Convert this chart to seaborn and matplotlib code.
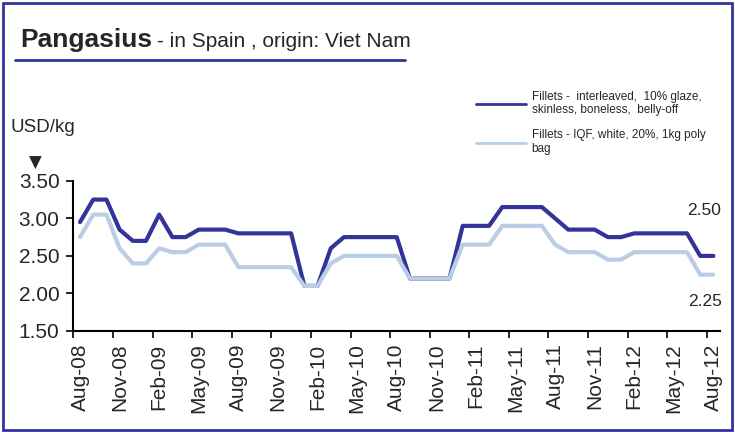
"""Pangasius fillet prices in Spain, origin Viet Nam (USD/kg)."""

import matplotlib.pyplot as plt
import pandas as pd
import seaborn as sns
from matplotlib.lines import Line2D
from matplotlib.patches import Rectangle
from matplotlib.ticker import FixedLocator, FormatStrFormatter

# Monthly series, Aug-08 .. Aug-12
months = pd.date_range("2008-08-01", periods=49, freq="MS").strftime("%b-%y").tolist()

interleaved = [
    2.95, 3.25, 3.25, 2.85, 2.70, 2.70, 3.05, 2.75, 2.75, 2.85, 2.85, 2.85,
    2.80, 2.80, 2.80, 2.80, 2.80, 2.10, 2.10, 2.60, 2.75, 2.75, 2.75, 2.75,
    2.75, 2.20, 2.20, 2.20, 2.20, 2.90, 2.90, 2.90, 3.15, 3.15, 3.15, 3.15,
    3.00, 2.85, 2.85, 2.85, 2.75, 2.75, 2.80, 2.80, 2.80, 2.80, 2.80, 2.50,
    2.50,
]
iqf_white = [
    2.75, 3.05, 3.05, 2.60, 2.40, 2.40, 2.60, 2.55, 2.55, 2.65, 2.65, 2.65,
    2.35, 2.35, 2.35, 2.35, 2.35, 2.10, 2.10, 2.40, 2.50, 2.50, 2.50, 2.50,
    2.50, 2.20, 2.20, 2.20, 2.20, 2.65, 2.65, 2.65, 2.90, 2.90, 2.90, 2.90,
    2.65, 2.55, 2.55, 2.55, 2.45, 2.45, 2.55, 2.55, 2.55, 2.55, 2.55, 2.25,
    2.25,
]
series_names = [
    "Fillets -  interleaved,  10% glaze,\nskinless, boneless,  belly-off",
    "Fillets - IQF, white, 20%, 1kg poly\nbag",
]
y_ticks = [1.50, 2.00, 2.50, 3.00, 3.50]

NAVY = "#333399"
LIGHT = "#B9CDE5"

df = pd.concat(
    [
        pd.DataFrame({"idx": range(len(months)), "price": interleaved, "product": series_names[0]}),
        pd.DataFrame({"idx": range(len(months)), "price": iqf_white, "product": series_names[1]}),
    ]
)

sns.set_style("white")
plt.rcParams["font.family"] = ["Liberation Sans", "DejaVu Sans"]

fig = plt.figure(figsize=(7.35, 4.32), dpi=100)
ax = fig.add_axes([0.0999, 0.2338, 0.8797, 0.3477])

sns.lineplot(
    data=df,
    x="idx",
    y="price",
    hue="product",
    palette=[NAVY, LIGHT],
    linewidth=3,
    ax=ax,
)

ax.set_xlim(-0.5, len(months) - 0.5)
ax.set_ylim(1.5, 3.5)
ax.set_xlabel("")
ax.set_ylabel("")

# labels centred on categories, tick marks between them
ax.set_xticks(range(0, len(months), 3))
ax.set_xticklabels(months[::3], rotation=90, fontsize=15)
ax.xaxis.set_minor_locator(FixedLocator([i - 0.5 for i in range(0, len(months), 3)]))
ax.tick_params(axis="x", which="major", bottom=True, length=0, pad=9)
ax.tick_params(axis="x", which="minor", bottom=True, length=5, width=1.2,
               color="black", direction="out")

ax.set_yticks(y_ticks)
ax.yaxis.set_major_formatter(FormatStrFormatter("%.2f"))
ax.tick_params(axis="y", left=True, length=5, width=1.2, color="black", direction="out",
               labelsize=15, pad=5)

for side in ["top", "right"]:
    ax.spines[side].set_visible(False)
for side in ["left", "bottom"]:
    ax.spines[side].set_color("black")
    ax.spines[side].set_linewidth(1.5)

# end-of-series values
ax.annotate("2.50", xy=(len(months) - 1, interleaved[-1]), xytext=(-7, 33),
            textcoords="offset points", ha="center", va="center", fontsize=12.5)
ax.annotate("2.25", xy=(len(months) - 1, iqf_white[-1]), xytext=(-6, -19),
            textcoords="offset points", ha="center", va="center", fontsize=12.5)

handles, labels = ax.get_legend_handles_labels()
for h in handles:
    h.set_linewidth(2)
ax.legend(
    handles, labels,
    loc="upper left",
    bbox_to_anchor=(465 / 735, 1 - 80 / 432),
    bbox_transform=fig.transFigure,
    frameon=False,
    fontsize=8.5,
    handlelength=4.3,
    handletextpad=0.45,
    labelspacing=1.1,
)

# title, underline, unit label
fig.text(20 / 735, 1 - 47 / 432, "Pangasius", fontsize=19, fontweight="bold", va="baseline")
fig.text(157 / 735, 1 - 47 / 432, "- in Spain , origin: Viet Nam", fontsize=15, va="baseline")
fig.add_artist(Line2D([15 / 735, 405 / 735], [1 - 60 / 432] * 2, color=NAVY, lw=2,
                      transform=fig.transFigure))
fig.text(10 / 735, 1 - 128 / 432, "USD/kg", fontsize=13.5, va="center")
fig.text(35 / 735, 1 - 163 / 432, "▼", fontsize=12, ha="center", va="center",
         family="DejaVu Sans")

# frame round the whole chart
fig.add_artist(Rectangle((3 / 735, 2 / 432), 729 / 735, 427 / 432, fill=False,
                         edgecolor=NAVY, lw=2, transform=fig.transFigure))

fig.savefig("out.png", dpi=100)
